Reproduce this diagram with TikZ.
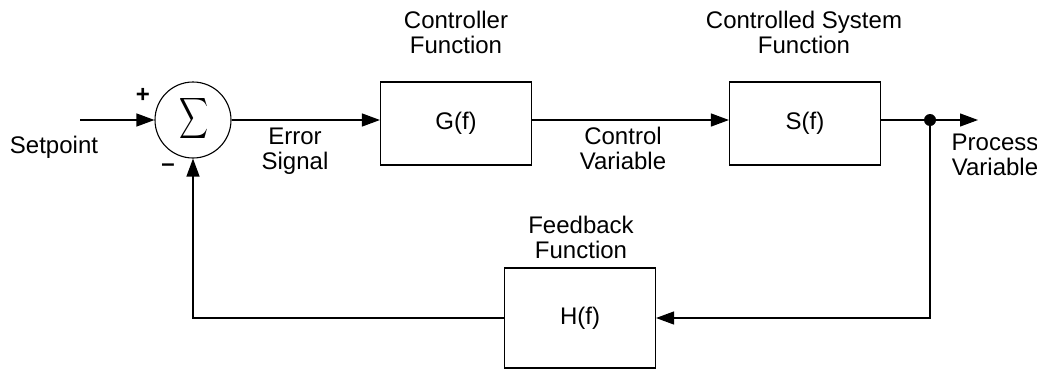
\documentclass[tikz,border=0pt]{standalone}
\usepackage{amsmath}
\usepackage{graphicx}
\usepackage{fontspec}
\setmainfont{Liberation Sans}
\usetikzlibrary{arrows.meta}
\begin{document}
\begin{tikzpicture}[x=1pt,y=-1pt,
  lbl/.style={font=\fontsize{24}{25}\selectfont, align=center, inner sep=0pt},
  blk/.style={draw, line width=1.1pt, minimum width=151pt, inner sep=0pt,
              font=\fontsize{24}{25}\selectfont},
  sumnode/.style={draw, circle, line width=1.1pt, minimum size=76pt, inner sep=0pt},
  wire/.style={line width=1.2pt},
  conn/.style={wire, -{Triangle[length=18pt,width=13pt]}},
  dotnode/.style={circle, fill=black, minimum size=12pt, inner sep=0pt},
]
\useasboundingbox (0,0) rectangle (1037,370);

% blocks
\node[sumnode] (sum) at (193,120) {};
\node (sigma) at (194,118) {\resizebox{29pt}{30pt}{$\displaystyle\sum$}};
\node[blk, minimum height=83pt] (G) at (456,123.5) {G(f)};
\node[blk, minimum height=83pt] (S) at (805,123.5) {S(f)};
\node[blk, minimum height=100pt] (H) at (580,318) {H(f)};
\node[dotnode] (dot) at (930,120) {};
\coordinate (sp) at (80,120);
\coordinate (pv) at (978,120);

% connectors
\draw[conn] (sp) -- (sum.west);
\draw[conn] (sum.east) -- (sum.east -| G.west);
\draw[conn] (G.east |- dot) -- (S.west |- dot);
\draw[wire] (S.east |- dot) -- (dot);
\draw[conn] (dot) -- (pv);
\draw[conn] (dot) |- (H.east);
\draw[conn] (H.west) -| (sum.south);

% labels
\node[lbl, anchor=base] (tsp) at (54,153) {Setpoint};
\node[lbl] (tplus) at (143,95) {\bfseries +};
\node[lbl] (tminus) at (168,168) {\bfseries\textendash};
\node[lbl, anchor=north] (terr) at (295,127.5) {Error\\Signal};
\node[lbl, anchor=north] (tcv) at (623,126.5) {Control\\Variable};
\node[lbl, anchor=north] (tpv) at (995,134) {Process\\Variable};
\node[lbl, anchor=north] (tcf) at (456,10.5) {Controller\\Function};
\node[lbl, anchor=north] (tsf) at (804,10.5) {Controlled System\\Function};
\node[lbl, anchor=north] (tff) at (581,216) {Feedback\\Function};
\end{tikzpicture}
\end{document}
